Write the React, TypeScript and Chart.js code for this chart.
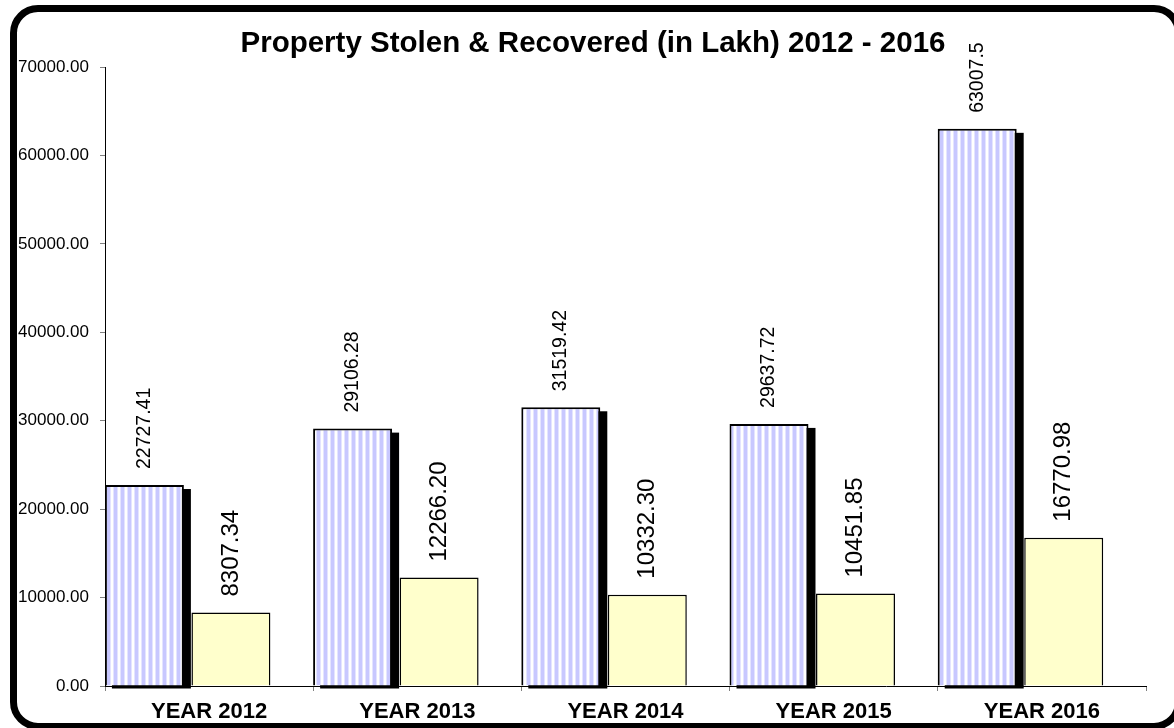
import React, { useEffect, useRef } from 'react';
import { Chart, registerables } from 'chart.js';

Chart.register(...registerables);

const TITLE = 'Property Stolen & Recovered (in Lakh) 2012 - 2016';
const CATEGORIES = ['YEAR 2012', 'YEAR 2013', 'YEAR 2014', 'YEAR 2015', 'YEAR 2016'];
const STOLEN = [22727.41, 29106.28, 31519.42, 29637.72, 63007.5];
const RECOVERED = [8307.34, 12266.2, 10332.3, 10451.85, 16770.98];
const Y_MIN = 0;
const Y_MAX = 70000;
const Y_STEP = 10000;

const FONT = "'Liberation Sans', Arial, sans-serif";
const GROUP_POS = 0.397;

function makeStripe(): CanvasPattern | string {
  const c = document.createElement('canvas');
  c.width = 7;
  c.height = 4;
  const g = c.getContext('2d');
  if (!g) return '#ccccff';
  const cols = ['#ffffff', '#e4e4ff', '#c8c8ff', '#c8c8ff', '#c8c8ff', '#e4e4ff', '#ffffff'];
  cols.forEach((col, i) => {
    g.fillStyle = col;
    g.fillRect(i, 0, 1, 4);
  });
  const p = g.createPattern(c, 'repeat');
  return p || '#ccccff';
}

const titlePlugin = {
  id: 'chartTitle',
  afterDraw(chart: any) {
    const ctx = chart.ctx;
    ctx.save();
    ctx.fillStyle = '#000000';
    ctx.font = `bold 29.5px ${FONT}`;
    ctx.textAlign = 'center';
    ctx.textBaseline = 'alphabetic';
    ctx.fillText(TITLE, chart.width / 2 + 6, 52);
    ctx.restore();
  },
};

const shadowPlugin = {
  id: 'barShadow',
  beforeDatasetDraw(chart: any, args: any) {
    if (args.index !== 0) return;
    const ctx = chart.ctx;
    const meta = chart.getDatasetMeta(0);
    ctx.save();
    ctx.fillStyle = '#000000';
    meta.data.forEach((el: any) => {
      const p = el.getProps(['x', 'y', 'base', 'width'], true);
      ctx.fillRect(p.x - p.width / 2 + 7, p.y + 4, p.width, p.base - p.y - 1);
    });
    ctx.restore();
  },
};

const labelPlugin = {
  id: 'valueLabels',
  afterDatasetsDraw(chart: any) {
    const ctx = chart.ctx;
    const specs = [
      { idx: 0, size: 19.5, fmt: (v: number) => String(v) },
      { idx: 1, size: 24, fmt: (v: number) => v.toFixed(2) },
    ];
    ctx.save();
    ctx.fillStyle = '#000000';
    specs.forEach((s) => {
      const meta = chart.getDatasetMeta(s.idx);
      const ds = chart.data.datasets[s.idx];
      meta.data.forEach((el: any, i: number) => {
        const p = el.getProps(['x', 'y'], true);
        const v = (ds.data[i] as any).y;
        ctx.save();
        ctx.translate(p.x, p.y - 16);
        ctx.rotate(-Math.PI / 2);
        ctx.font = `${s.size}px ${FONT}`;
        ctx.textAlign = 'left';
        ctx.textBaseline = 'middle';
        ctx.fillText(s.fmt(v), 0, 0);
        ctx.restore();
      });
    });
    ctx.restore();
  },
};

export default function App() {
  const ref = useRef<HTMLCanvasElement | null>(null);

  useEffect(() => {
    const canvas = ref.current;
    if (!canvas) return;
    const stripe = makeStripe();
    const chart = new Chart(canvas, {
      type: 'bar',
      data: {
        labels: CATEGORIES,
        datasets: [
          {
            label: 'Property Stolen',
            data: STOLEN.map((v, i) => ({ x: i + GROUP_POS, y: v })),
            xAxisID: 'xb',
            yAxisID: 'y',
            backgroundColor: stripe as any,
            borderColor: '#000000',
            borderWidth: 2,
            categoryPercentage: 0.831,
            barPercentage: 0.913,
          },
          {
            label: 'Property Recovered',
            data: RECOVERED.map((v, i) => ({ x: i + GROUP_POS, y: v })),
            xAxisID: 'xb',
            yAxisID: 'y',
            backgroundColor: '#ffffcc',
            borderColor: '#000000',
            borderWidth: 1.5,
            categoryPercentage: 0.831,
            barPercentage: 0.913,
          },
        ],
      },
      options: {
        animation: false,
        responsive: false,
        maintainAspectRatio: false,
        layout: { padding: { left: 0, right: 28, top: 67, bottom: 0 } },
        plugins: {
          legend: { display: false },
          tooltip: { enabled: false },
          title: { display: false },
        },
        scales: {
          x: {
            type: 'category',
            position: 'bottom',
            offset: true,
            grid: {
              offset: true,
              drawOnChartArea: false,
              drawTicks: true,
              tickLength: 5,
              color: '#808080',
            },
            border: { display: true, color: '#000000', width: 1 },
            ticks: {
              color: '#000000',
              padding: 8,
              maxRotation: 0,
              autoSkip: false,
              font: { family: FONT, size: 22, weight: 'bold' },
            },
            afterFit: (s: any) => {
              s.height = 42;
            },
          },
          xb: {
            type: 'linear',
            display: false,
            offset: false,
            min: 0,
            max: CATEGORIES.length,
            grid: { offset: false },
            ticks: { stepSize: 1 },
          },
          y: {
            type: 'linear',
            position: 'left',
            min: Y_MIN,
            max: Y_MAX,
            grid: {
              drawOnChartArea: false,
              drawTicks: true,
              tickLength: 5,
              color: '#808080',
            },
            border: { display: true, color: '#000000', width: 1 },
            ticks: {
              stepSize: Y_STEP,
              color: '#000000',
              padding: 11,
              font: { family: FONT, size: 17 },
              callback: (v: any) => Number(v).toFixed(2),
            },
            afterFit: (s: any) => {
              s.width = 105;
            },
          },
        },
      },
      plugins: [shadowPlugin, labelPlugin, titlePlugin],
    });
    return () => chart.destroy();
  }, []);

  return (
    <div
      style={{
        position: 'fixed',
        left: 0,
        top: 0,
        width: 1174,
        height: 728,
        overflow: 'hidden',
        background: '#ffffff',
      }}
    >
      <canvas
        ref={ref}
        width={1174}
        height={728}
        style={{ position: 'absolute', left: 0, top: 0, width: 1174, height: 728 }}
      />
      <div
        style={{
          position: 'absolute',
          left: 10,
          top: 5,
          width: 1172,
          height: 725,
          boxSizing: 'border-box',
          border: '7px solid #000000',
          borderRadius: 28,
          pointerEvents: 'none',
        }}
      />
    </div>
  );
}
